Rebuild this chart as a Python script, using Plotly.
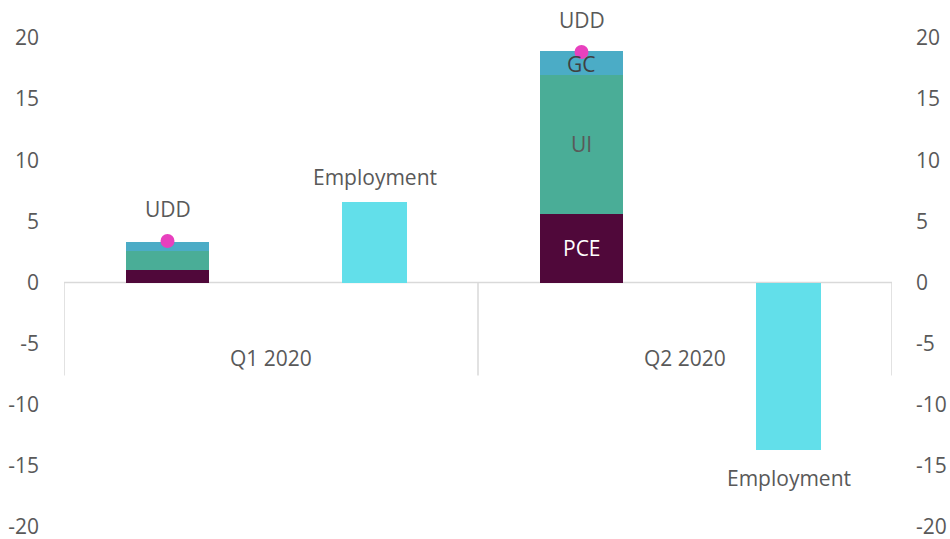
import plotly.graph_objects as go

categories = ["Q1 2020", "Q2 2020"]
pce = [1.0, 5.6]
ui = [1.6, 11.4]
gc = [0.75, 1.9]
udd = [3.4, 18.85]
employment = [6.55, -13.7]
y_ticks = [-20, -15, -10, -5, 0, 5, 10, 15, 20]
y_tick_text = ["-20", "-15", "-10", "-5", "0", "5", "10", "15", "20"]
Y_MIN, Y_MAX = -20, 20

stack_x = [i + 0.25 for i in range(len(categories))]
emp_x = [i + 0.75 for i in range(len(categories))]

FONT = "Open Sans"
TXT = "#595959"
FS = 21

fig = go.Figure()
nol = dict(width=0)
fig.add_trace(go.Bar(x=stack_x, y=pce, width=0.2, marker=dict(color="#50083A", line=nol), name="PCE"))
fig.add_trace(go.Bar(x=stack_x, y=ui, width=0.2, marker=dict(color="#4AAD97", line=nol), name="UI"))
fig.add_trace(go.Bar(x=stack_x, y=gc, width=0.2, marker=dict(color="#4BACC6", line=nol), name="GC"))
fig.add_trace(go.Bar(x=emp_x, y=employment, width=0.157, marker=dict(color="#62DFEA", line=nol), name="Employment"))
fig.add_trace(go.Scatter(x=stack_x, y=udd, mode="markers", marker=dict(color="#E840BE", size=14), name="UDD", cliponaxis=False))
# right axis twin for tick labels
fig.add_trace(go.Scatter(x=[0], y=[0], yaxis="y2", mode="markers", marker=dict(opacity=0), showlegend=False, hoverinfo="skip"))

f = lambda c=TXT: dict(size=FS, color=c, family=FONT)
py = lambda v: (v - Y_MIN) / (Y_MAX - Y_MIN)


def label(x, yv, text, color=TXT):
    return dict(x=x, xref="x", y=py(yv), yref="paper", xanchor="center", yanchor="middle",
                text=text, showarrow=False, font=f(color))


ann = []
for i in range(len(categories)):
    ann.append(label(stack_x[i], udd[i] + 2.6, "UDD"))
    ann.append(label(i + 0.5, -6.2, categories[i]))
    if employment[i] >= 0:
        ann.append(label(emp_x[i], employment[i] + 2.1, "Employment"))
    else:
        ann.append(label(emp_x[i], employment[i] - 2.3, "Employment"))
# segment labels on the Q2 bar
ann.append(label(stack_x[1], pce[1] / 2, "PCE", "white"))
ann.append(label(stack_x[1], pce[1] + ui[1] / 2, "UI"))
ann.append(label(stack_x[1], pce[1] + ui[1] + gc[1] / 2 - 0.1, "GC", "#404040"))

shapes = [dict(type="line", xref="x", yref="y", x0=0, x1=2, y0=0, y1=0, line=dict(color="#D9D9D9", width=1.5), layer="below")]
for xv in [0, 1, 2]:
    shapes.append(dict(type="line", xref="x", yref="y", x0=xv, x1=xv, y0=0, y1=-7.6, line=dict(color="#D9D9D9", width=1.5), layer="below"))

fig.update_layout(
    width=950, height=539,
    margin=dict(l=64, r=58, t=38, b=12),
    paper_bgcolor="white", plot_bgcolor="white",
    barmode="relative", bargap=0,
    showlegend=False,
    font=dict(family=FONT, color=TXT, size=FS),
    xaxis=dict(range=[0, 2], showgrid=False, zeroline=False, showticklabels=False, showline=False, fixedrange=True, automargin=False),
    yaxis=dict(range=[Y_MIN, Y_MAX], tickvals=y_ticks, ticktext=y_tick_text, showgrid=False, zeroline=False, showline=False,
               tickfont=f(), ticks="", ticklabelstandoff=24, automargin=False, ticklabeloverflow="allow"),
    yaxis2=dict(range=[Y_MIN, Y_MAX], tickvals=y_ticks, ticktext=y_tick_text, overlaying="y", side="right", showgrid=False, zeroline=False,
                showline=False, tickfont=f(), ticks="", ticklabelstandoff=23, automargin=False, ticklabeloverflow="allow"),
    annotations=ann,
    shapes=shapes,
)
fig.write_html("out.html", config={"displayModeBar": False},
               post_script="document.body.style.margin='0';document.body.style.padding='0';")
